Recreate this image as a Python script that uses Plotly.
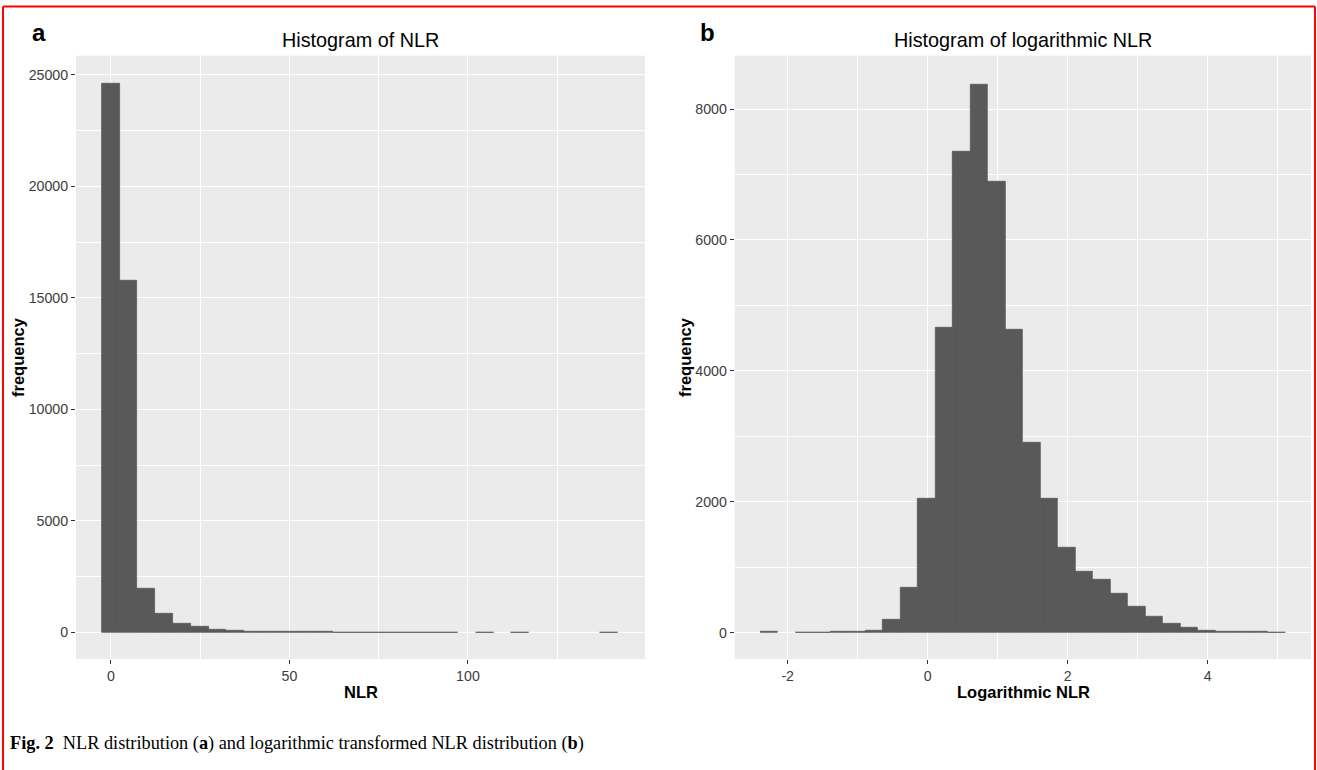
import plotly.graph_objects as go

# ---------------- data ----------------
# Panel a: histogram of NLR (bin start, bin width, counts per bin)
nlr_bin_start = -2.6
nlr_bin_width = 4.99
nlr_counts = [24610, 15760, 1960, 850, 390, 240, 135, 75, 40, 28,
              20, 15, 12, 10, 8, 6, 5, 4, 3, 3,
              None, 2, None, 2, None, None, None, None, 1]

# Panel b: histogram of logarithmic NLR
log_bin_start = -2.391
log_bin_width = 0.25
log_counts = [10, None, 4, 5, 6, 8, 35, 190, 690, 2040,
              4660, 7350, 8380, 6890, 4630, 2900, 2040, 1300, 930, 810,
              590, 400, 240, 140, 75, 30, 10, 8, 6, 5]

nlr_xticks = [0, 50, 100]
nlr_yticks = [0, 5000, 10000, 15000, 20000, 25000]
log_xticks = [-2, 0, 2, 4]
log_yticks = [0, 2000, 4000, 6000, 8000]

titles = ["Histogram of NLR", "Histogram of logarithmic NLR"]
x_titles = ["NLR", "Logarithmic NLR"]
y_title = "frequency"
tags = ["a", "b"]
caption = ("<b>Fig. 2</b>\u00a0\u00a0NLR distribution (<b>a</b>) and logarithmic "
           "transformed NLR distribution (<b>b</b>)")

# ---------------- layout helpers ----------------
W, H = 1317, 770


def fx(p):
    return p / W


def fy(p):
    return 1 - p / H


nlr_centers = [nlr_bin_start + nlr_bin_width * (i + 0.5) for i in range(len(nlr_counts))]
log_centers = [log_bin_start + log_bin_width * (i + 0.5) for i in range(len(log_counts))]

BAR = "#595959"
PANEL = "#ebebeb"
TICKC = "#3d3d3d"
SANS = "Liberation Sans, Arial, sans-serif"

fig = go.Figure()
fig.add_trace(go.Bar(x=nlr_centers, y=nlr_counts, width=nlr_bin_width,
                     marker=dict(color=BAR, line=dict(color=BAR, width=0.8)),
                     xaxis="x", yaxis="y", showlegend=False))
fig.add_trace(go.Bar(x=log_centers, y=log_counts, width=log_bin_width,
                     marker=dict(color=BAR, line=dict(color=BAR, width=0.8)),
                     xaxis="x2", yaxis="y2", showlegend=False))


def axis(domain, rng, tickvals, minor_dtick, minor_tick0, anchor):
    return dict(
        domain=domain, range=rng, anchor=anchor,
        tickmode="array", tickvals=tickvals, ticktext=[str(v) for v in tickvals],
        showgrid=True, gridcolor="white", gridwidth=1.3,
        minor=dict(dtick=minor_dtick, tick0=minor_tick0, showgrid=True,
                   gridcolor="white", gridwidth=0.6),
        zeroline=False, showline=False,
        ticks="outside", ticklen=4, tickwidth=1, tickcolor="#333333",
        tickfont=dict(family=SANS, size=14.2, color=TICKC),
        automargin=False, fixedrange=True,
    )


yd = [fy(659), fy(55.7)]
fig.update_layout(
    width=W, height=H,
    margin=dict(l=0, r=0, t=0, b=0),
    paper_bgcolor="white",
    bargap=0,
    xaxis=axis([fx(76), fx(645)], [-9.8, 149.6], nlr_xticks, 25, 0, "y"),
    yaxis=axis(yd, [-1192, 25862], nlr_yticks, 2500, 0, "x"),
    xaxis2=axis([fx(734.7), fx(1311)], [-2.757, 5.476], log_xticks, 1, 0, "y2"),
    yaxis2=axis(yd, [-404, 8816], log_yticks, 1000, 0, "x2"),
)
fig.update_layout(plot_bgcolor=PANEL)

ann = []
# titles
for xc, t in zip([360.5, 1023], titles):
    ann.append(dict(text=t, x=fx(xc), y=fy(40), xref="paper", yref="paper",
                    xanchor="center", yanchor="middle", showarrow=False,
                    font=dict(family=SANS, size=19.8, color="black")))
# x axis titles
for xc, t in zip([360.5, 1023], x_titles):
    ann.append(dict(text="<b>" + t + "</b>", x=fx(xc), y=fy(692), xref="paper", yref="paper",
                    xanchor="center", yanchor="middle", showarrow=False,
                    font=dict(family=SANS, size=16.5, color="black")))
# y axis titles
for xc in [18, 685]:
    ann.append(dict(text="<b>" + y_title + "</b>", x=fx(xc), y=fy(357), xref="paper", yref="paper",
                    xanchor="center", yanchor="middle", showarrow=False, textangle=-90,
                    font=dict(family=SANS, size=16.5, color="black")))
# panel tags
for xc, t in zip([39, 707], tags):
    ann.append(dict(text="<b>" + t + "</b>", x=fx(xc), y=fy(33), xref="paper", yref="paper",
                    xanchor="center", yanchor="middle", showarrow=False,
                    font=dict(family=SANS, size=24, color="black")))
# caption
ann.append(dict(text=caption, x=fx(8), y=fy(743), xref="paper", yref="paper",
                xanchor="left", yanchor="middle", showarrow=False,
                font=dict(family="Liberation Serif, Times New Roman, serif", size=18.3, color="black")))
fig.update_layout(annotations=ann)

# red frame
fig.update_layout(shapes=[
    dict(type="line", xref="paper", yref="paper", x0=fx(3), x1=fx(1315), y0=fy(6.5), y1=fy(6.5),
         line=dict(color="#ff0000", width=2)),
    dict(type="line", xref="paper", yref="paper", x0=fx(3), x1=fx(3), y0=fy(6.5), y1=fy(775),
         line=dict(color="#ff0000", width=2)),
    dict(type="line", xref="paper", yref="paper", x0=fx(1315), x1=fx(1315), y0=fy(6.5), y1=fy(775),
         line=dict(color="#ff0000", width=2)),
])

fig.write_html("out.html")
